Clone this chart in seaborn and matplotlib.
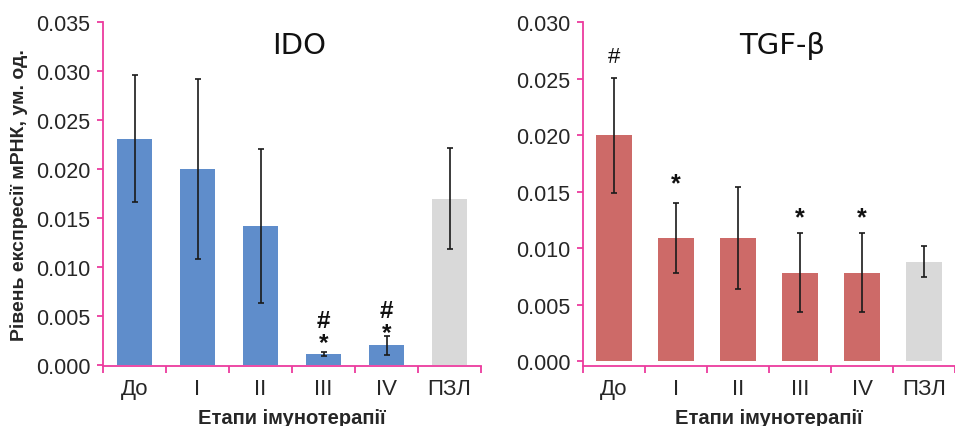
import matplotlib
matplotlib.use("Agg")
import matplotlib.pyplot as plt
import seaborn as sns
import pandas as pd
import numpy as np
from matplotlib.ticker import FixedLocator, FormatStrFormatter

sns.set_theme(style="white")
NARROW = ["Liberation Sans Narrow", "Liberation Sans", "DejaVu Sans"]
plt.rcParams["font.family"] = NARROW

categories = ["До", "I", "II", "III", "IV", "ПЗЛ"]

ido_mean = [0.0231, 0.0200, 0.0142, 0.0011, 0.0020, 0.0170]
ido_err = [0.0065, 0.0092, 0.0079, 0.0002, 0.00095, 0.0052]
ido_marks = ["", "", "", "#\n*", "#\n*", ""]
ido_marks_y = [None, None, None, 0.0034, 0.0044, None]

tgf_mean = [0.0200, 0.0109, 0.0109, 0.0078, 0.0078, 0.0088]
tgf_err = [0.0051, 0.0031, 0.0045, 0.0035, 0.0035, 0.0014]
tgf_marks = ["#", "*", "", "*", "*", ""]
tgf_marks_y = [0.0270, 0.0157, None, 0.0127, 0.0127, None]

PINK = "#EC3C9E"
BLUE = "#5F8DCB"
RED = "#CD6A68"
GREY = "#D9D9D9"

fig = plt.figure(figsize=(9.55, 4.27), dpi=100)
ax1 = fig.add_axes([103/955, 1-366.7/427, 378/955, (366.7-23.3)/427])
ax2 = fig.add_axes([583/955, 1-366.7/427, 372/955, (366.7-23.3)/427])


def panel(ax, means, errs, color, ylim, yticks, title, tx):
    df = pd.DataFrame({"cat": categories, "val": means})
    palette = [color]*5 + [GREY]
    sns.barplot(data=df, x="cat", y="val", hue="cat", palette=palette,
                order=categories, width=0.57, ax=ax, legend=False,
                saturation=1, errorbar=None, linewidth=0)
    ax.errorbar(np.arange(len(categories)), means, yerr=errs, fmt="none",
                ecolor="#1a1a1a", elinewidth=1.2, capsize=2.5, capthick=1.2)
    ax.set_xlim(-0.5, 5.5)
    ax.set_ylim(*ylim)
    ax.yaxis.set_major_locator(FixedLocator(yticks))
    ax.yaxis.set_major_formatter(FormatStrFormatter("%.3f"))
    for s in ["top", "right"]:
        ax.spines[s].set_visible(False)
    for s in ["left", "bottom"]:
        ax.spines[s].set_color(PINK)
        ax.spines[s].set_linewidth(1.3)
    ax.tick_params(axis="y", which="major", direction="out", length=4,
                   width=1.3, color=PINK, pad=5, labelsize=15.5, left=True)
    ax.set_xticks(np.arange(len(categories)))
    ax.set_xticklabels(categories)
    ax.xaxis.set_minor_locator(FixedLocator(np.arange(-0.5, 6.0, 1.0)))
    ax.tick_params(axis="x", which="major", length=0, pad=9, labelsize=16)
    ax.tick_params(axis="x", which="minor", direction="out", length=5,
                   width=1.3, color=PINK, bottom=True)
    ax.set_xlabel("Етапи імунотерапії", fontsize=14.5, fontweight="bold",
                  labelpad=6)
    ax.set_ylabel("")
    ax.text(tx, 0.935, title, transform=ax.transAxes, ha="center",
            va="center", fontsize=21, family=["DejaVu Sans"], color="#111111")
    ax.grid(False)


panel(ax1, ido_mean, ido_err, BLUE, (-0.00008, 0.035),
      [0, 0.005, 0.01, 0.015, 0.02, 0.025, 0.03, 0.035], "IDO", 0.518)
panel(ax2, tgf_mean, tgf_err, RED, (-0.00042, 0.030),
      [0, 0.005, 0.01, 0.015, 0.02, 0.025, 0.03], "TGF-β", 0.535)

ax1.set_ylabel("Рівень експресії мРНК, ум. од.", fontsize=14,
               fontweight="bold", labelpad=6)

for i, (m, y) in enumerate(zip(ido_marks, ido_marks_y)):
    if m:
        ax1.text(i, y, m, ha="center", va="center", fontsize=17.5,
                 fontweight="bold", linespacing=0.95, color="#111111")
for i, (m, y) in enumerate(zip(tgf_marks, tgf_marks_y)):
    if m:
        ax2.text(i, y, m, ha="center", va="center",
                 fontsize=18 if m == "*" else 16,
                 fontweight="bold" if m == "*" else "normal",
                 color="#111111")

fig.savefig("out.png", dpi=100)
